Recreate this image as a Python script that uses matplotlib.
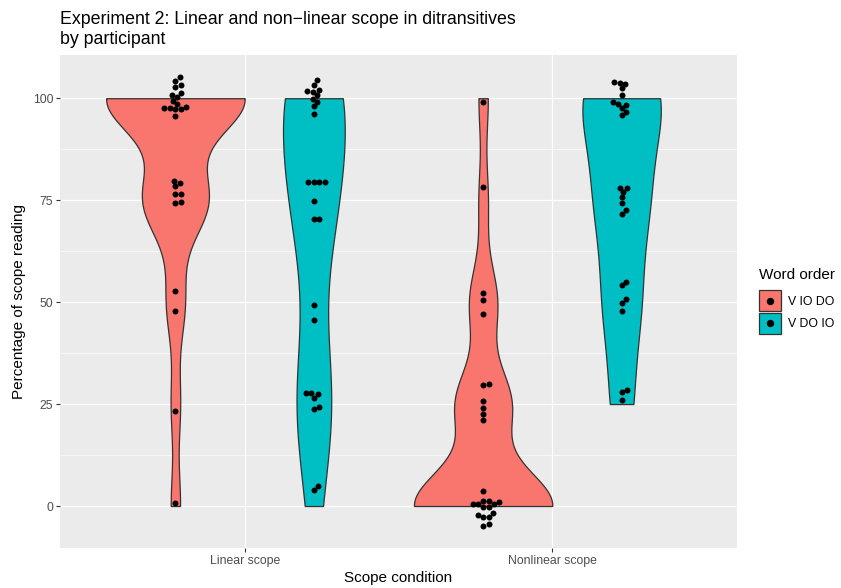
import numpy as np
import matplotlib.pyplot as plt
from matplotlib.patches import Patch
from matplotlib.lines import Line2D
from matplotlib.legend_handler import HandlerLine2D

plt.rcParams['font.family'] = ['Liberation Sans', 'DejaVu Sans']

conditions = ['Linear scope', 'Nonlinear scope']
orders = ['V IO DO', 'V DO IO']
colours = ['#F8766D', '#00BFC4']

# dot heights as drawn (each participant's score, jittered a little in y)
lin_io = [105.1, 104.2, 103.2, 102.7, 101.3, 100.8, 100.2, 99.4, 98.6, 97.8,
          97.6, 97.5, 97.4, 97.3, 95.6, 79.7, 79.1, 78.4, 76.6, 76.4, 74.6,
          74.2, 52.7, 47.9, 23.3, 0.7]
lin_do = [104.4, 103.2, 102.0, 101.7, 101.5, 100.7, 99.9, 99.1, 98.0, 96.1,
          79.4, 79.4, 79.4, 79.4, 74.9, 70.3, 70.3, 49.4, 45.6, 27.8, 27.8,
          27.4, 26.6, 24.3, 23.9, 4.8, 3.9]
non_io = [99.1, 78.3, 52.3, 50.5, 47.1, 29.9, 29.7, 25.7, 24.1, 22.6, 21.1,
          3.8, 1.3, 1.2, 0.9, 0.5, 0.4, 0.4, -0.2, -0.2, -1.6, -2.2, -2.6,
          -2.8, -4.5, -4.8]
non_do = [103.9, 103.8, 103.4, 102.4, 100.9, 99.1, 98.7, 98.3, 97.6, 96.6,
          95.8, 78.1, 78.1, 77.0, 75.7, 74.2, 72.5, 71.6, 55.0, 54.2, 50.7,
          49.9, 47.9, 28.4, 28.0, 25.9]

groups = [[lin_io, lin_do], [non_io, non_do]]


def nrd0(x):
    # R's default bandwidth
    sd = np.std(x, ddof=1)
    iqr = np.subtract(*np.percentile(x, [75, 25]))
    lo = min(sd, iqr / 1.34)
    if lo == 0:
        lo = sd
    return 0.9 * lo * len(x) ** -0.2


def density(x, n=512):
    bw = nrd0(x)
    grid = np.linspace(x.min(), x.max(), n)
    d = np.exp(-0.5 * ((grid[:, None] - x[None, :]) / bw) ** 2).sum(1)
    return grid, d / (len(x) * bw * np.sqrt(2 * np.pi))


fig = plt.figure(figsize=(8.41, 5.88), dpi=100)
ax = fig.add_axes([60 / 841, 40 / 588, 677 / 841, 493 / 588])
ax.set_facecolor('#EBEBEB')
for s in ax.spines.values():
    s.set_visible(False)

allpts = np.concatenate([np.array(v) for g in groups for v in g])
pad = 0.05 * (allpts.max() - allpts.min())
ax.set_xlim(-0.6, 1.6)
ax.set_ylim(allpts.min() - pad, allpts.max() + pad)

# violins (scores are in quarters; scale = "area")
dens = {}
for i, g in enumerate(groups):
    for j, v in enumerate(g):
        score = np.clip(np.round(np.array(v) / 25) * 25, 0, 100)
        dens[i, j] = density(score)
dmax = max(d.max() for _, d in dens.values())

half = 0.225
for (i, j), (grid, d) in dens.items():
    xc = i + (j - 0.5) * 2 * half
    w = d / dmax * half
    ax.fill_betweenx(grid, xc - w, xc + w, facecolor=colours[j],
                     edgecolor='#333333', lw=0.9, zorder=2)


def swarm(xc, y, dpx=5.6):
    pts = ax.transData.transform(np.column_stack([np.full(len(y), xc), y]))
    ypx = pts[:, 1]
    off = np.zeros(len(y))
    placed = []
    for k in np.argsort(ypx):
        cands = [0.0]
        for xo, yo in placed:
            dy = ypx[k] - yo
            if abs(dy) < dpx:
                dx = np.sqrt(dpx ** 2 - dy ** 2)
                cands += [xo + dx, xo - dx]
        cands.sort(key=abs)
        for c in cands:
            if all((c - xo) ** 2 + (ypx[k] - yo) ** 2 >= dpx ** 2 - 1e-6
                   for xo, yo in placed):
                off[k] = c
                break
        placed.append((off[k], ypx[k]))
    x0 = ax.transData.inverted().transform([[0, 0], [1, 0]])
    return xc + off * (x0[1, 0] - x0[0, 0])


for i, g in enumerate(groups):
    for j, v in enumerate(g):
        xc = i + (j - 0.5) * 2 * half
        ax.plot(swarm(xc, np.array(v)), v, 'o', color='black', ms=4.3,
                mec='none', zorder=3)

ax.set_xticks([0, 1])
ax.set_xticklabels(conditions)
ax.set_yticks([0, 25, 50, 75, 100])
ax.set_yticks([12.5, 37.5, 62.5, 87.5], minor=True)
ax.grid(which='major', color='white', lw=0.9, zorder=0)
ax.grid(which='minor', axis='y', color='white', lw=0.45, zorder=0)
ax.set_axisbelow(True)
ax.tick_params(which='major', length=2.75, width=0.8, color='#333333',
               labelsize=8.8, labelcolor='#4D4D4D', pad=2.2)
ax.tick_params(which='minor', length=0)
ax.set_xlabel('Scope condition', fontsize=11, labelpad=3)
ax.set_ylabel('Percentage of scope reading', fontsize=11, labelpad=5)

fig.text(60 / 841, 1 - 11 / 588,
         'Experiment 2: Linear and non\u2212linear scope in ditransitives\nby participant',
         ha='left', va='top', fontsize=12.8, linespacing=1.2)


class CentredDot(HandlerLine2D):
    # put the key dot in the middle of the key box
    def create_artists(self, legend, orig_handle, xdescent, ydescent,
                       width, height, fontsize, trans):
        arts = super().create_artists(legend, orig_handle, xdescent, ydescent,
                                      width, height, fontsize, trans)
        for a in arts:
            a.set_ydata(np.full(len(a.get_ydata()), height / 2 - ydescent))
            a.set_xdata(np.full(len(a.get_xdata()), width / 2 - xdescent))
        return arts


handles = [(Patch(fc=c, ec='#333333', lw=0.9),
            Line2D([], [], marker='o', ls='', color='black', ms=4.3))
           for c in colours]
leg = fig.legend(handles, orders, title='Word order', loc='upper left',
                 bbox_to_anchor=(754 / 841, 1 - 263 / 588), frameon=False,
                 fontsize=8.8, title_fontsize=11, handlelength=1.8,
                 handleheight=2.3, handletextpad=0.6, labelspacing=0.1,
                 alignment='left', borderaxespad=0,
                 handler_map={Line2D: CentredDot(numpoints=1)})
leg._legend_box.sep = 6

fig.savefig('out.png', dpi=100)
